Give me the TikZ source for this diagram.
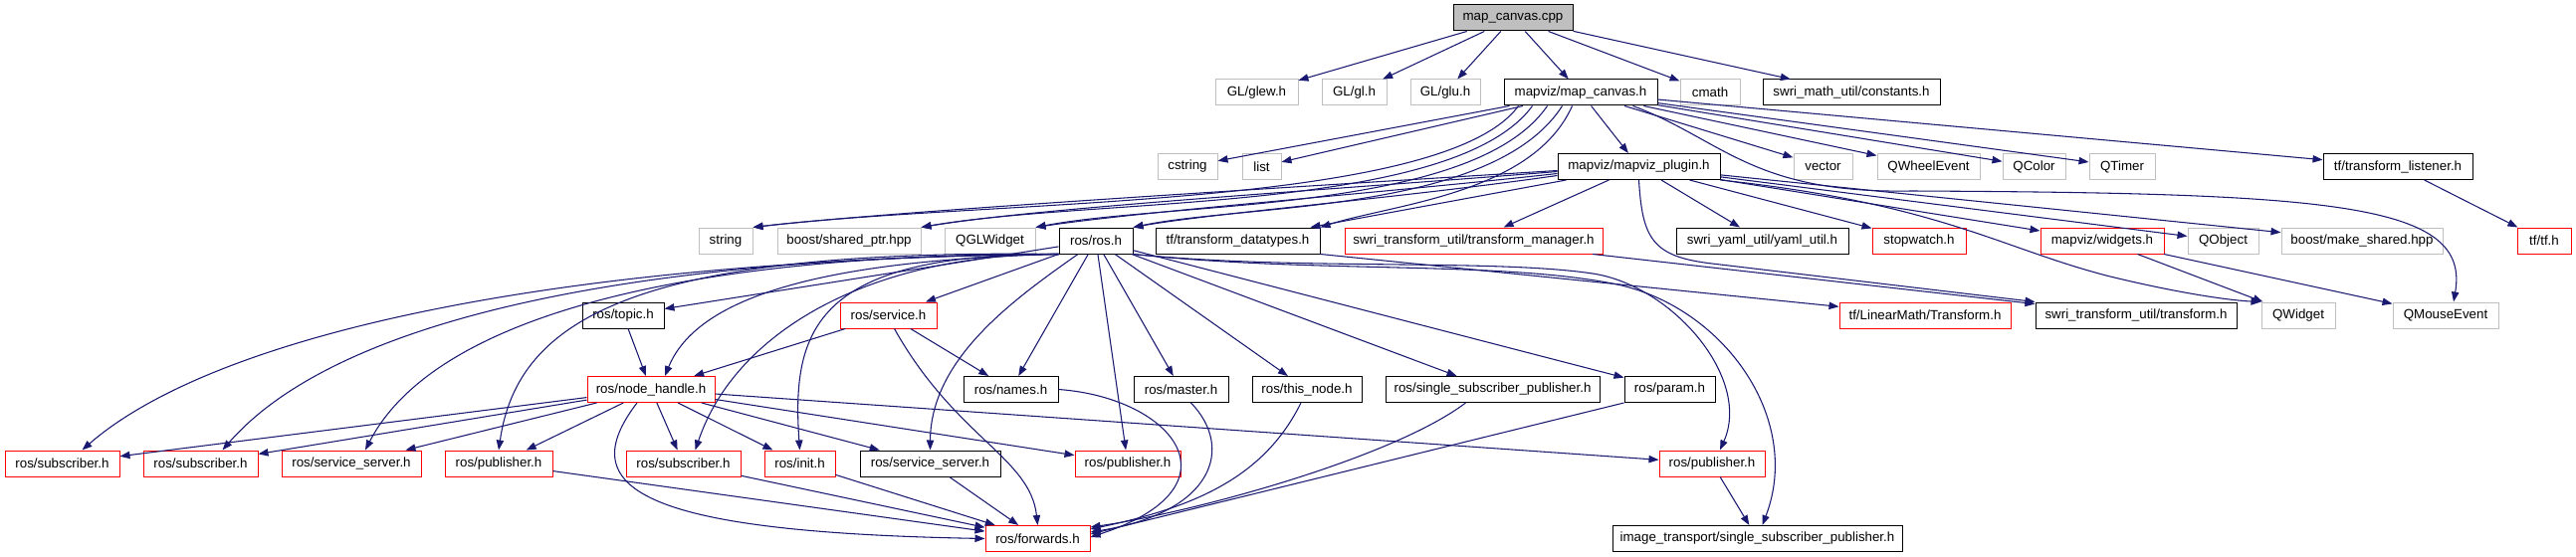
\documentclass[tikz,border=0pt]{standalone}
\usepackage{fontspec}
\setmainfont{Liberation Sans}
\usetikzlibrary{arrows.meta,calc}
\definecolor{edgeblue}{HTML}{191970}
\definecolor{graybd}{HTML}{BFBFBF}
\begin{document}
\begin{tikzpicture}[x=0.75pt,y=-0.75pt,
  box/.style={rectangle, draw, line width=0.75pt, inner sep=0pt, minimum height=19.5pt, font=\fontsize{10}{12}\selectfont, fill=white},
  nb/.style={box, draw=black},
  ng/.style={box, draw=graybd},
  nr/.style={box, draw=red},
  root/.style={box, draw=black, fill=graybd},
  bw/.style={minimum width=#1*0.75pt},
  edge/.style={draw=edgeblue, line width=0.8pt, -{Triangle[length=7.5pt,width=5.5pt]}},
]
\useasboundingbox (0,0) rectangle (2588,560);
% row 1
\node[root, bw=120] (cpp) at (1520,18) {map\_canvas.cpp};
% row 2
\node[ng, bw=83] (glew) at (1262.5,93) {GL/glew.h};
\node[ng, bw=65] (gl) at (1360.5,93) {GL/gl.h};
\node[ng, bw=70] (glu) at (1452,93) {GL/glu.h};
\node[nb, bw=154] (mch) at (1588,93) {mapviz/map\_canvas.h};
\node[ng, bw=60] (cmath) at (1718,93) {cmath};
\node[nb, bw=178] (consts) at (1860,93) {swri\_math\_util/constants.h};
% row 3
\node[ng, bw=60] (cstring) at (1193,167.5) {cstring};
\node[ng, bw=39] (list) at (1267.5,167.5) {list};
\node[nb, bw=163] (plugin) at (1646.5,167.5) {mapviz/mapviz\_plugin.h};
\node[ng, bw=59] (vector) at (1831.5,167.5) {vector};
\node[ng, bw=103] (qwheel) at (1937.5,167.5) {QWheelEvent};
\node[ng, bw=63] (qcolor) at (2043.5,167.5) {QColor};
\node[ng, bw=66] (qtimer) at (2132,167.5) {QTimer};
\node[nb, bw=150] (tflistener) at (2409,167.5) {tf/transform\_listener.h};
% row 4
\node[ng, bw=54] (string) at (729,242) {string};
\node[ng, bw=144] (sharedptr) at (853,242) {boost/shared\_ptr.hpp};
\node[ng, bw=91] (qgl) at (994.5,242) {QGLWidget};
\node[nb, bw=74] (ros) at (1101,242) {ros/ros.h};
\node[nb, bw=165] (tfdt) at (1243.5,242) {tf/transform\_datatypes.h};
\node[nr, bw=259] (tfmgr) at (1480.5,242) {swri\_transform\_util/transform\_manager.h};
\node[nb, bw=173] (yaml) at (1770.5,242) {swri\_yaml\_util/yaml\_util.h};
\node[nr, bw=94] (stopwatch) at (1928,242) {stopwatch.h};
\node[nr, bw=124] (widgets) at (2112,242) {mapviz/widgets.h};
\node[ng, bw=71] (qobject) at (2233.5,242) {QObject};
\node[ng, bw=162] (makeshared) at (2373,242) {boost/make\_shared.hpp};
\node[nr, bw=54] (tftf) at (2556,242) {tf/tf.h};
% row 5
\node[nb, bw=82] (topic) at (626,317) {ros/topic.h};
\node[nr, bw=97] (service) at (892.5,317) {ros/service.h};
\node[nr, bw=172] (lmtransform) at (1934,317) {tf/LinearMath/Transform.h};
\node[nb, bw=202] (swritf) at (2146,317) {swri\_transform\_util/transform.h};
\node[ng, bw=74] (qwidget) at (2309,317) {QWidget};
\node[ng, bw=106] (qmouse) at (2457,317) {QMouseEvent};
% row 6
\node[nr, bw=128] (nh) at (654,391.5) {ros/node\_handle.h};
\node[nb, bw=95] (names) at (1015.5,391.5) {ros/names.h};
\node[nb, bw=95] (master) at (1186.5,391.5) {ros/master.h};
\node[nb, bw=110] (thisnode) at (1313,391.5) {ros/this\_node.h};
\node[nb, bw=215] (ssp) at (1499.5,391.5) {ros/single\_subscriber\_publisher.h};
\node[nb, bw=91] (param) at (1677.5,391.5) {ros/param.h};
% row 7
\node[nr, bw=115] (sub1) at (62.5,466) {ros/subscriber.h};
\node[nr, bw=115] (sub2) at (201.5,466) {ros/subscriber.h};
\node[nr, bw=140] (ssrv1) at (353,466) {ros/service\_server.h};
\node[nr, bw=108] (pub1) at (501,466) {ros/publisher.h};
\node[nr, bw=115] (sub3) at (686.5,466) {ros/subscriber.h};
\node[nr, bw=71] (init) at (803.5,466) {ros/init.h};
\node[nb, bw=141] (ssrv2) at (934.5,466) {ros/service\_server.h};
\node[nr, bw=106] (pub2) at (1133,466) {ros/publisher.h};
\node[nr, bw=106] (pub3) at (1720,466) {ros/publisher.h};
% row 8
\node[nr, bw=105] (fwd) at (1042.5,541.5) {ros/forwards.h};
\node[nb, bw=291] (itssp) at (1765.5,541.5) {image\_transport/single\_subscriber\_publisher.h};

% ---- edges from map_canvas.cpp
\draw[edge] (cpp) -- (glew);
\draw[edge] (cpp) -- (gl);
\draw[edge] (cpp) -- (glu);
\draw[edge] (cpp) -- (mch);
\draw[edge] (cpp) -- (cmath);
\draw[edge] (cpp) -- (consts);
% ---- edges from map_canvas.h
\draw[edge] (mch) -- (cstring);
\draw[edge] (mch) -- (list);
\draw[edge] (mch) -- (plugin);
\draw[edge] (mch) -- (vector);
\draw[edge] (mch) -- (qwheel);
\draw[edge] (mch) -- (qcolor);
\draw[edge] (mch) -- (qtimer);
\draw[edge] (mch) -- (tflistener);
\draw[edge] ($(mch.south west)+(15,0)$) .. controls (1450,210) and (1000,200) .. (string.north east);
\draw[edge] ($(mch.south west)+(29,0)$) .. controls (1460,215) and (1100,198) .. (sharedptr.north east);
\draw[edge] ($(mch.south west)+(44,0)$) .. controls (1480,215) and (1180,202) .. (qgl.north east);
\draw[edge] ($(mch.south west)+(59,0)$) .. controls (1500,215) and (1250,205) .. (ros.north east);
\draw[edge] ($(mch.south west)+(69,0)$) .. controls (1540,195) and (1400,205) .. (tfdt.north east);
\draw[edge] ($(mch.south east)+(-25,0)$) .. controls (1730,140) and (1760,195) .. (1920,192)
   .. controls (2350,194) and (2482,205) .. ($(qmouse.north)+(8,0)$);
% ---- edges from mapviz_plugin.h
\draw[edge] ($(plugin.west)+(0,4)$) .. controls (1300,188) and (900,212) .. (string.north east);
\draw[edge] ($(plugin.west)+(0,5)$) .. controls (1350,190) and (1050,208) .. (sharedptr.north east);
\draw[edge] ($(plugin.west)+(0,7)$) .. controls (1380,195) and (1150,212) .. (qgl.north east);
\draw[edge] ($(plugin.west)+(0,9)$) .. controls (1400,200) and (1220,214) .. (ros.north east);
\draw[edge] (plugin) -- (tfdt);
\draw[edge] (plugin) -- (tfmgr);
\draw[edge] (plugin) -- (yaml);
\draw[edge] (plugin) -- (stopwatch);
\draw[edge] (plugin) -- (widgets);
\draw[edge] (plugin) -- (qobject);
\draw[edge] (plugin) -- (makeshared);
\draw[edge] (plugin.south) .. controls (1650,240) and (1660,258) .. (1720,265) -- (swritf.north west);
\draw[edge] (plugin.south east) .. controls (1950,205) and (2010,250) .. (2120,278)
   .. controls (2190,295) and (2240,302) .. (qwidget.north west);
% ---- other upper edges
\draw[edge] (tflistener) -- (tftf);
\draw[edge] (tfdt.south east) -- (lmtransform);
\draw[edge] (tfmgr) -- (swritf);
\draw[edge] (widgets) -- (qwidget);
\draw[edge] (widgets) -- (qmouse);
% ---- edges from ros.h
\draw[edge] (ros) -- (topic);
\draw[edge] (ros) -- (service);
\draw[edge] (ros) -- (names);
\draw[edge] (ros) -- (pub2);
\draw[edge] (ros) -- (master);
\draw[edge] (ros) -- (thisnode);
\draw[edge] (ros) -- (ssp);
\draw[edge] (ros) -- (param);
\draw[edge] ($(ros.south)+(-18,0)$) .. controls (1020,300) and (935,360) .. (ssrv2.north);
\draw[edge] (ros.south west) .. controls (820,262) and (700,300) .. ($(nh.north)+(14,0)$);
\draw[edge] (ros.south west) .. controls (500,262) and (200,350) .. ($(sub1.north)+(20,0)$);
\draw[edge] (ros.south west) .. controls (600,258) and (330,330) .. ($(sub2.north)+(22,0)$);
\draw[edge] (ros.south west) .. controls (650,255) and (430,330) .. ($(ssrv1.north)+(14,0)$);
\draw[edge] (ros.south west) .. controls (640,250) and (520,320) .. (pub1.north);
\draw[edge] (ros.south west) .. controls (880,255) and (740,330) .. ($(sub3.north)+(12,0)$);
\draw[edge] (ros.south west) .. controls (820,255) and (795,330) .. (init.north);
\draw[edge] (ros.south east) .. controls (1300,272) and (1500,260) .. (1600,275)
   .. controls (1680,287) and (1760,380) .. ($(pub3.north)+(8,0)$);
\draw[edge] (ros.south east) .. controls (1320,275) and (1500,262) .. (1620,285)
   .. controls (1730,306) and (1812,420) .. ($(itssp.north)+(5,0)$);
% ---- row 5 sources
\draw[edge] (topic) -- (nh);
\draw[edge] (service) -- (nh);
\draw[edge] (service) -- (names);
\draw[edge] ($(service.south)+(6,0)$) .. controls (960,440) and (1035,460) .. (fwd.north);
% ---- edges from node_handle.h
\draw[edge] (nh) -- (sub1);
\draw[edge] (nh) -- (sub2);
\draw[edge] (nh) -- (ssrv1);
\draw[edge] (nh) -- (pub1);
\draw[edge] (nh) -- (sub3);
\draw[edge] (nh) -- (init);
\draw[edge] (nh) -- (ssrv2);
\draw[edge] (nh) -- (pub2);
\draw[edge] (nh) -- (pub3);
\draw[edge] ($(nh.south)+(-14,0)$) .. controls (575,490) and (640,535) .. (fwd.west);
% ---- row 6 to forwards
\draw[edge] (names.east) .. controls (1180,400) and (1250,490) .. ($(fwd.east)+(0,-1.5)$);
\draw[edge] ($(master.south)+(10,0)$) .. controls (1240,450) and (1220,515) .. ($(fwd.east)+(0,-6.5)$);
\draw[edge] ($(thisnode.south)+(-6,0)$) .. controls (1270,480) and (1200,510) .. ($(fwd.east)+(0,-9.5)$);
\draw[edge] ($(ssp.south)+(-27,0)$) .. controls (1400,460) and (1200,515) .. ($(fwd.east)+(0,-11.5)$);
\draw[edge] (param.south west) -- ($(fwd.east)+(0,-4.5)$);
% ---- row 7 to row 8
\draw[edge] (pub1) -- (fwd);
\draw[edge] (sub3) -- (fwd);
\draw[edge] (init) -- (fwd);
\draw[edge] (ssrv2) -- (fwd);
\draw[edge] (pub3) -- (itssp);
\end{tikzpicture}
\end{document}
